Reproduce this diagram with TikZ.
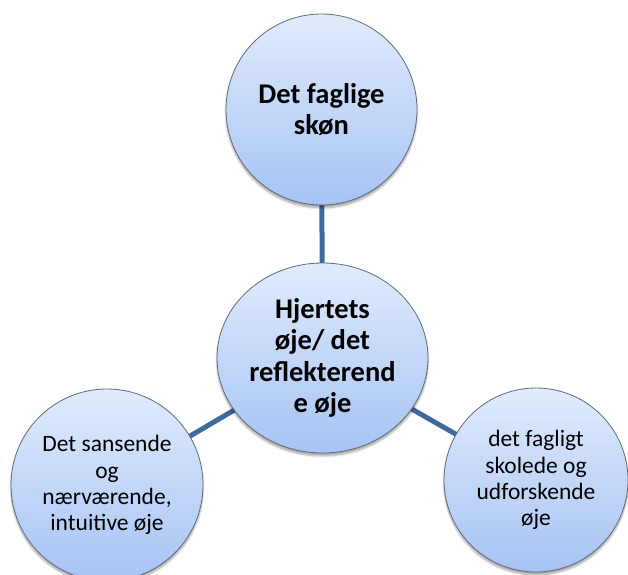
\documentclass[tikz,border=0pt]{standalone}
\usepackage{fontspec}
\setmainfont{Carlito}
\usetikzlibrary{shapes.geometric,shadows.blur,backgrounds}

\definecolor{bubbletop}{HTML}{E1EBFC}
\definecolor{bubblebot}{HTML}{A6C3F4}
\definecolor{bubbleline}{HTML}{5F6B7C}
\definecolor{linkblue}{HTML}{3F6A9E}

\tikzset{
  bubble/.style={
    circle, draw=bubbleline, line width=0.8pt,
    top color=bubbletop, bottom color=bubblebot,
    align=center, inner sep=0pt,
    blur shadow={shadow xshift=0pt, shadow yshift=-3pt,
                 shadow blur steps=6, shadow opacity=35}
  },
  bigtext/.style={font=\fontsize{28.5}{31.5}\selectfont\bfseries},
  smalltext/.style={font=\fontsize{23.5}{26.2}\selectfont},
  link/.style={draw=linkblue, line width=5pt}
}

\begin{document}
\begin{tikzpicture}[x=1pt, y=-1pt]
  \useasboundingbox (0,0) rectangle (628,574);

  \node[bubble, bigtext, minimum size=191pt] (top) at (321.5,109.5)
    {Det faglige\\skøn};

  \node[bubble, bigtext, ellipse, minimum width=211pt, minimum height=190pt]
    (mid) at (322.5,358) {Hjertets\\øje/ det\\reflekterend\\e øje};

  \node[bubble, smalltext, minimum size=192pt] (left) at (107,485)
    {Det sansende\\og\\nærværende,\\intuitive øje};

  \node[bubble, smalltext, minimum size=184pt] (right) at (536,480)
    {det fagligt\\skolede og\\udforskende\\øje};

  \begin{scope}[on background layer]
    \draw[link] (mid.center) -- (top.center);
    \draw[link] (mid.center) -- (left.center);
    \draw[link] (mid.center) -- (right.center);
  \end{scope}
\end{tikzpicture}
\end{document}
